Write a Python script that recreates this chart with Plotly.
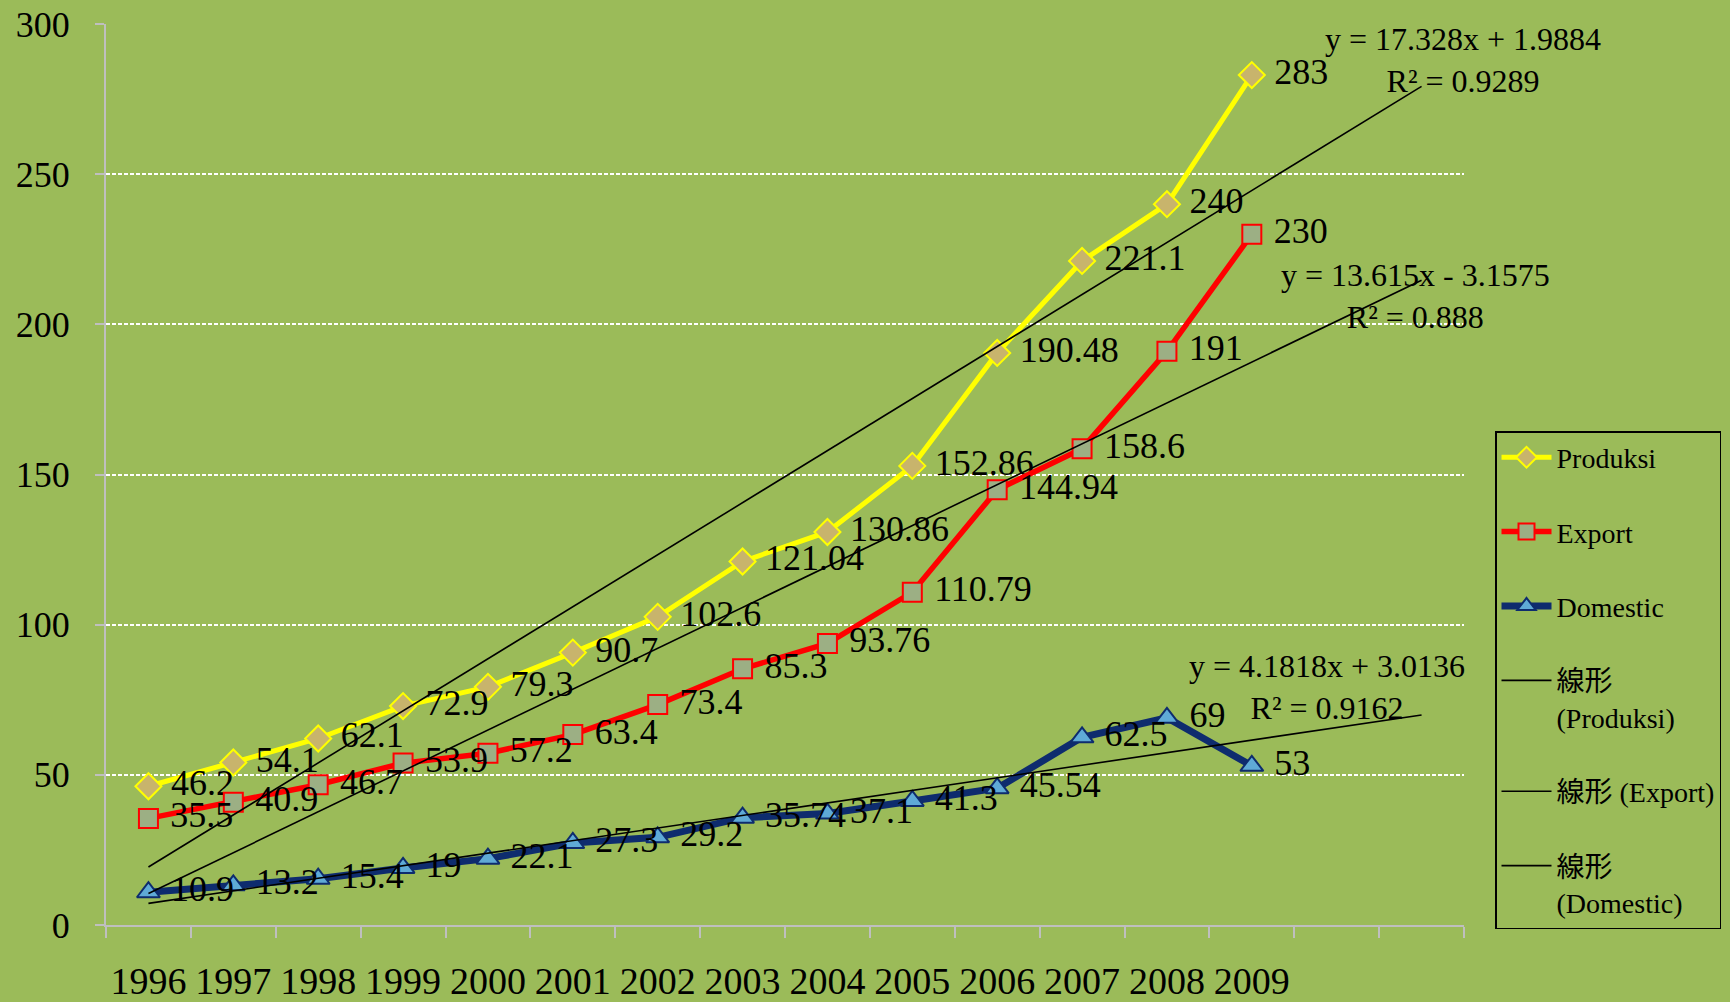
import plotly.graph_objects as go

# ---- data ----
years = [1996, 1997, 1998, 1999, 2000, 2001, 2002, 2003, 2004, 2005, 2006, 2007, 2008, 2009]
forecast_periods = 2  # trendlines extend two periods past the data

produksi = [46.2, 54.1, 62.1, 72.9, 79.3, 90.7, 102.6, 121.04, 130.86, 152.86, 190.48, 221.1, 240, 283]
export = [35.5, 40.9, 46.7, 53.9, 57.2, 63.4, 73.4, 85.3, 93.76, 110.79, 144.94, 158.6, 191, 230]
domestic = [10.9, 13.2, 15.4, 19, 22.1, 27.3, 29.2, 35.74, 37.1, 41.3, 45.54, 62.5, 69, 53]

# trendline coefficients as shown on the chart (y = slope * x + intercept, x = 1..n)
trend_slope = [17.328, 13.615, 4.1818]
trend_intercept = [1.9884, -3.1575, 3.0136]
trend_r2 = ["0.9289", "0.888", "0.9162"]
trend_legend = ["線形<br>(Produksi)", "線形 (Export)", "線形<br>(Domestic)"]

# ---- styling ----
BG = "#9BBB59"
AXIS = "#BFBFBF"
SERIF = "Liberation Serif, Times New Roman, Noto Sans CJK JP, serif"

first_year = years[0]
last_year = years[-1] + forecast_periods
fig = go.Figure()

series = [
    ("Produksi", produksi, "#FFFF00", 5, "diamond", "#C8B46C", "#FFFF00", 20),
    ("Export", export, "#FF0000", 5.5, "square", "#9CAF84", "#FF0000", 19),
    ("Domestic", domestic, "#0E2C6E", 7, "triangle-up", "#5FAAD6", "#0E2C6E", 20),
]

for i, (name, vals, lc, lw, sym, fill, mline, msize) in enumerate(series):
    fig.add_trace(go.Scatter(
        x=years, y=vals, name=name, mode="lines+markers+text",
        line=dict(color=lc, width=lw),
        marker=dict(symbol=sym, size=msize, color=fill, line=dict(color=mline, width=2)),
        text=[f" {v:g}" for v in vals], textposition="middle right",
        textfont=dict(family=SERIF, size=36, color="#000000"),
        legendgroup=f"g{i}", cliponaxis=False, hoverinfo="skip",
    ))

for i, (m, b) in enumerate(zip(trend_slope, trend_intercept)):
    xs = [first_year, last_year]
    ys = [m * (x - first_year + 1) + b for x in xs]
    fig.add_trace(go.Scatter(
        x=xs, y=ys, mode="lines", name=trend_legend[i],
        line=dict(color="#000000", width=1.6),
        legendgroup=f"t{i}", hoverinfo="skip",
    ))

# equation annotations (centered two-line text)
eq_pos = [(2011.49, 288), (2010.93, 209.5), (2009.89, 79.3)]
for i, (m, b) in enumerate(zip(trend_slope, trend_intercept)):
    sign = "+" if b >= 0 else "-"
    txt = f"y = {m:g}x {sign} {abs(b):g}<br>R² = {trend_r2[i]}"
    fig.add_annotation(
        x=eq_pos[i][0], y=eq_pos[i][1], xref="x", yref="y", text=txt,
        showarrow=False, align="center", xanchor="center", yanchor="middle",
        font=dict(family=SERIF, size=32, color="#000000"),
    )

boundaries = [y - 0.5 for y in range(first_year, last_year + 2)]

fig.update_layout(
    width=1730, height=1002,
    paper_bgcolor=BG, plot_bgcolor=BG,
    margin=dict(l=106, r=266, t=24, b=77, autoexpand=False),
    showlegend=True,
    legend=dict(
        xref="container", yref="container",
        x=1495 / 1730, y=1 - 431 / 1002, xanchor="left", yanchor="top",
        bgcolor=BG, bordercolor="#000000", borderwidth=1.5,
        font=dict(family=SERIF, size=28, color="#000000"),
        tracegroupgap=35, itemwidth=50, valign="top",
    ),
    xaxis=dict(
        range=[first_year - 0.5, last_year + 0.5],
        tickmode="array", tickvals=years, ticktext=[str(y) for y in years],
        ticks="", showgrid=False, zeroline=False, automargin=False,
        showline=True, linecolor=AXIS, linewidth=2,
        tickfont=dict(family=SERIF, size=38, color="#000000"),
        ticklabelstandoff=21,
        minor=dict(tickmode="array", tickvals=boundaries, ticks="outside",
                   ticklen=11, tickcolor=AXIS, tickwidth=2, showgrid=False),
    ),
    yaxis=dict(
        range=[0, 300], tickmode="linear", tick0=0, dtick=50,
        ticks="outside", ticklen=9, tickcolor=AXIS, tickwidth=2,
        showline=True, linecolor=AXIS, linewidth=2, automargin=False,
        showgrid=True, gridcolor="#FFFFFF", gridwidth=1.5, griddash="4px,2px",
        zeroline=False,
        tickfont=dict(family=SERIF, size=36, color="#000000"),
        ticklabelstandoff=18,
    ),
)

fig.write_html(
    "out.html",
    config={"displayModeBar": False},
    post_script="document.body.style.margin='0';document.body.style.overflow='hidden';",
)
